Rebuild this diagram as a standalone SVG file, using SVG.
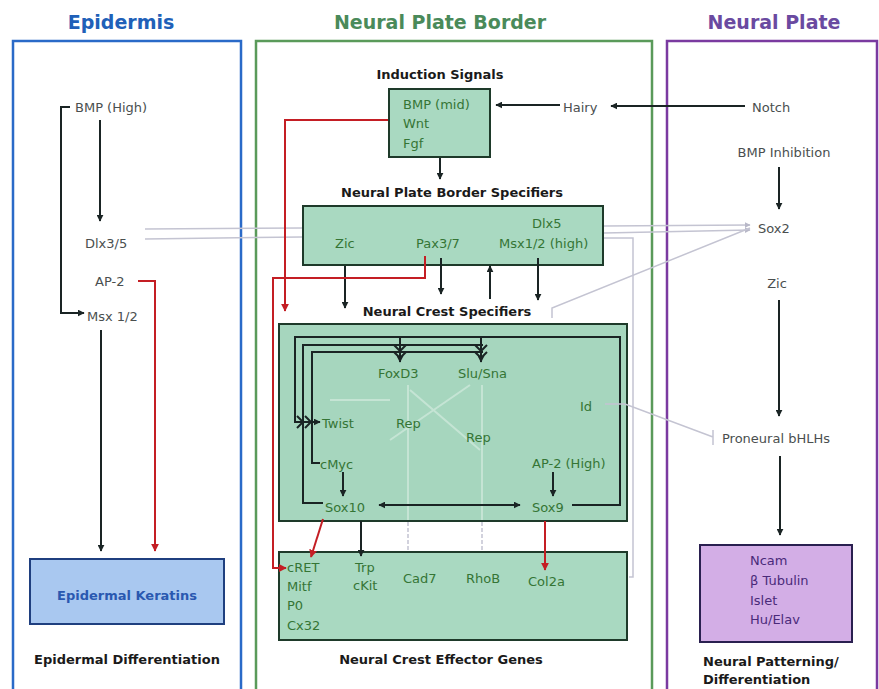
<svg xmlns="http://www.w3.org/2000/svg" width="879" height="689" viewBox="0 0 879 689">
<defs>
<marker id="ab" viewBox="0 0 10 10" refX="9" refY="5" markerWidth="7" markerHeight="7" orient="auto-start-reverse" markerUnits="userSpaceOnUse"><path d="M0,0 L10,5 L0,10 z" fill="#1a2424"/></marker>
<marker id="ar" viewBox="0 0 10 10" refX="9" refY="5" markerWidth="8" markerHeight="8" orient="auto-start-reverse" markerUnits="userSpaceOnUse"><path d="M0,0 L10,5 L0,10 z" fill="#c41e24"/></marker>
<marker id="ag" viewBox="0 0 10 10" refX="9" refY="5" markerWidth="6" markerHeight="6" orient="auto" markerUnits="userSpaceOnUse"><path d="M0,0 L10,5 L0,10 z" fill="#b8b8c8"/></marker>
</defs>
<style>
text{font-family:"DejaVu Sans","Liberation Sans",sans-serif;}
.title{font-size:19px;font-weight:bold;text-anchor:middle;}
.sub{font-size:13px;font-weight:bold;fill:#1a1a1a;text-anchor:middle;}
.g{font-size:13px;fill:#4a4f4f;}
.gn{font-size:13px;fill:#357535;}
.pu{font-size:13px;fill:#4a2a7a;}
.bk{stroke:#1a2424;stroke-width:2;fill:none;}
.rd{stroke:#c41e24;stroke-width:2;fill:none;}
.gy{stroke:#c4c4d2;stroke-width:1.5;fill:none;}
.box{fill:#a9d9c1;stroke:#1e3a2a;stroke-width:2;}
</style>
<rect width="879" height="689" fill="#ffffff"/>

<g id="panels">
<rect x="13" y="41" width="228" height="660" fill="none" stroke="#2a6ac8" stroke-width="2.5"/>
<rect x="256" y="41" width="396" height="660" fill="none" stroke="#5a9a5a" stroke-width="2.5"/>
<rect x="667" y="41" width="210" height="660" fill="none" stroke="#7a3aa0" stroke-width="2.5"/>
<text class="title" x="121" y="29" fill="#2060b8">Epidermis</text>
<text class="title" x="440" y="29" fill="#4a8a5a">Neural Plate Border</text>
<text class="title" x="774" y="29" fill="#6a4aa0">Neural Plate</text>
</g>

<g id="epidermis">
<text class="g" x="75" y="112">BMP (High)</text>
<text class="g" x="85" y="248">Dlx3/5</text>
<text class="g" x="95" y="286">AP-2</text>
<text class="g" x="87" y="321">Msx 1/2</text>
</g>
<g id="epidermal-keratins">
<rect x="30" y="559" width="194" height="65" fill="#a9c8f0" stroke="#1f3f7f" stroke-width="2"/>
<text x="127" y="600" text-anchor="middle" font-size="13" font-weight="bold" fill="#2a58b0" style="font-family:'DejaVu Sans',sans-serif">Epidermal Keratins</text>
<text class="sub" x="127" y="664">Epidermal Differentiation</text>
</g>

<g id="induction-signals">
<text class="sub" x="440" y="79">Induction Signals</text>
<rect class="box" x="389" y="89" width="101" height="68"/>
<text class="gn" x="403" y="109">BMP (mid)</text>
<text class="gn" x="403" y="128">Wnt</text>
<text class="gn" x="403" y="148">Fgf</text>
</g>
<g id="hairy"><text class="g" x="563" y="112">Hairy</text></g>
<g id="notch"><text class="g" x="752" y="112">Notch</text></g>

<g id="npb-specifiers">
<text class="sub" x="452" y="197">Neural Plate Border Specifiers</text>
<rect class="box" x="303" y="206" width="300" height="59"/>
<text class="gn" x="335" y="248">Zic</text>
<text class="gn" x="416" y="248">Pax3/7</text>
<text class="gn" x="532" y="228">Dlx5</text>
<text class="gn" x="499" y="248">Msx1/2 (high)</text>
</g>

<g id="nc-specifiers">
<text class="sub" x="447" y="316">Neural Crest Specifiers</text>
<rect x="279" y="324" width="348" height="197" fill="#a6d6be" stroke="#1e3a2a" stroke-width="2"/>
<g stroke="#ffffff" stroke-opacity="0.35" stroke-width="2" fill="none">
<path d="M390,440 L470,385 M410,390 L480,450 M408,385 L408,520 M482,385 L482,520 M330,400 L390,400"/>
</g>
<g class="bk" stroke-width="2">
<path d="M572,505 L620,505 L620,337 L295,337 L295,422 L320,422" marker-end="url(#ab)"/>
<path d="M323,503 L303,503 L303,345 L483,345"/>
<path d="M320,463 L312,463 L312,352 L483,352"/>
<path d="M400,337 L400,362" marker-end="url(#ab)"/>
<path d="M481,337 L481,362" marker-end="url(#ab)"/>
<path d="M394,345 L400,351 L406,345 M394,352 L400,358 L406,352 M475,345 L481,351 L487,345 M475,352 L481,358 L487,352"/>
<path d="M297,416 L303,422 L297,428 M305,416 L311,422 L305,428"/>
<path d="M343,472 L343,496" marker-end="url(#ab)"/>
<path d="M553,472 L553,496" marker-end="url(#ab)"/>
<path d="M379,505 L520,505" marker-start="url(#ab)" marker-end="url(#ab)"/>
</g>
<text class="gn" x="378" y="378">FoxD3</text>
<text class="gn" x="458" y="378">Slu/Sna</text>
<text class="gn" x="580" y="411">Id</text>
<text class="gn" x="322" y="428">Twist</text>
<text class="gn" x="396" y="428">Rep</text>
<text class="gn" x="466" y="442">Rep</text>
<text class="gn" x="320" y="469">cMyc</text>
<text class="gn" x="532" y="468">AP-2 (High)</text>
<text class="gn" x="325" y="512">Sox10</text>
<text class="gn" x="532" y="512">Sox9</text>
</g>

<g id="nc-effectors">
<rect class="box" x="279" y="552" width="348" height="88"/>
<text class="gn" x="287" y="572">cRET</text>
<text class="gn" x="287" y="591">Mitf</text>
<text class="gn" x="287" y="610">P0</text>
<text class="gn" x="287" y="630">Cx32</text>
<text class="gn" x="355" y="572">Trp</text>
<text class="gn" x="353" y="590">cKit</text>
<text class="gn" x="403" y="583">Cad7</text>
<text class="gn" x="466" y="583">RhoB</text>
<text class="gn" x="528" y="586">Col2a</text>
<text class="sub" x="441" y="664">Neural Crest Effector Genes</text>
</g>

<g id="neural-plate">
<text class="g" x="784" y="157" text-anchor="middle">BMP Inhibition</text>
<text class="g" x="758" y="233">Sox2</text>
<text class="g" x="777" y="288" text-anchor="middle">Zic</text>
<text class="g" x="722" y="443">Proneural bHLHs</text>
</g>
<g id="neural-differentiation">
<rect x="700" y="545" width="152" height="97" fill="#d3aee6" stroke="#2a2050" stroke-width="2"/>
<text class="pu" x="750" y="565">Ncam</text>
<text class="pu" x="750" y="585">β Tubulin</text>
<text class="pu" x="750" y="605">Islet</text>
<text class="pu" x="750" y="624">Hu/Elav</text>
<text x="703" y="666" font-size="13" font-weight="bold" fill="#1a1a1a">Neural Patterning/</text>
<text x="703" y="684" font-size="13" font-weight="bold" fill="#1a1a1a">Differentiation</text>
</g>

<g id="connectors">
<!-- gray faint connectors -->
<path class="gy" d="M145,229 L302,228 M604,226 L750,225" marker-end="url(#ag)"/>
<path class="gy" d="M145,239 L302,237 M604,233 L750,230" marker-end="url(#ag)"/>
<path class="gy" d="M604,238 L633,238 L633,577 L629,577"/>
<path class="gy" d="M552,318 L552,308 L750,228"/>
<path class="gy" d="M605,404 L625,404 L713,437 M713,430 L713,445"/>
<path class="gy" d="M408,522 L408,551 M482,522 L482,551" stroke-dasharray="4,2"/>
<!-- epidermis -->
<path class="bk" d="M70,107 L61,107 L61,313 L84,313" marker-end="url(#ab)"/>
<path class="bk" d="M100,120 L100,221" marker-end="url(#ab)"/>
<path class="bk" d="M101,330 L101,551" marker-end="url(#ab)"/>
<path class="rd" d="M138,281 L155,281 L155,551" marker-end="url(#ar)"/>
<!-- induction -->
<path class="bk" d="M560,105 L496,105" marker-end="url(#ab)"/>
<path class="bk" d="M745,106 L611,106" marker-end="url(#ab)"/>
<path class="bk" d="M440,158 L440,179" marker-end="url(#ab)"/>
<path class="rd" d="M388,120 L285,120 L285,311" marker-end="url(#ar)"/>
<!-- NPB specifiers -->
<path class="bk" d="M345,266 L345,308" marker-end="url(#ab)"/>
<path class="bk" d="M441,258 L441,294" marker-end="url(#ab)"/>
<path class="bk" d="M490,299 L490,266" marker-end="url(#ab)"/>
<path class="bk" d="M538,258 L538,300" marker-end="url(#ab)"/>
<path class="rd" d="M425,256 L425,278 L273,278 L273,568 L286,568" marker-end="url(#ar)"/>
<!-- neural plate -->
<path class="bk" d="M779,167 L779,209" marker-end="url(#ab)"/>
<path class="bk" d="M779,300 L779,416" marker-end="url(#ab)"/>
<path class="bk" d="M780,456 L780,535" marker-end="url(#ab)"/>
<!-- to effectors -->
<path class="bk" d="M361,521 L361,556" marker-end="url(#ab)"/>
<path class="rd" d="M323,519 L311,557" marker-end="url(#ar)"/>
<path class="rd" d="M545,521 L545,570" marker-end="url(#ar)"/>
</g>
</svg>
